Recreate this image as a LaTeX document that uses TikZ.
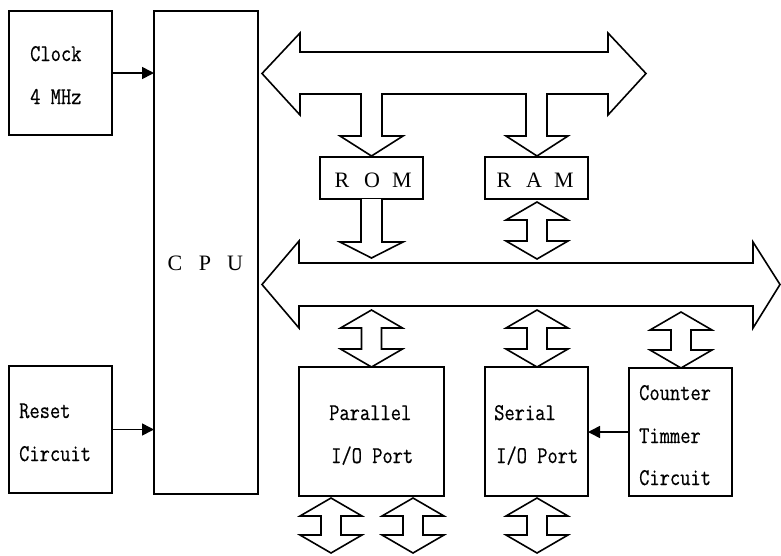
\documentclass[tikz,border=0pt]{standalone}
\usepackage{fontspec}
\usetikzlibrary{arrows.meta}
\newfontfamily\monofont[FakeStretch=0.83,FakeBold=0.5]{Latin Modern Mono}
\newfontfamily\serifont{Liberation Serif}
% three capitals set on a fixed pitch
\newcommand\spacedlabel[3]{\makebox[30pt]{#1}\makebox[30pt]{#2}\makebox[30pt]{#3}}
% vertical two-headed block arrow: centre x, top tip y, bottom tip y
\newcommand\twoway[3]{%
  \draw[fat] (#1,#2) -- (#1+31,#2+18) -- (#1+10,#2+18) -- (#1+10,#3-18)
    -- (#1+31,#3-18) -- (#1,#3) -- (#1-31,#3-18) -- (#1-10,#3-18)
    -- (#1-10,#2+18) -- (#1-31,#2+18) -- cycle;}

\begin{document}
\begin{tikzpicture}[x=1pt,y=-1pt,
  blk/.style={draw, line width=1.6pt, inner sep=0pt, outer sep=0pt},
  lbl/.style={font=\monofont\fontsize{24}{24}\selectfont, anchor=base west, inner sep=0pt},
  big/.style={font=\serifont\fontsize{22}{22}\selectfont, anchor=base, inner sep=0pt},
  fat/.style={draw, line width=1.6pt, line join=miter, fill=white},
  sig/.style={draw, line width=1.6pt, -{Triangle[length=12pt,width=12pt]}}
]
\useasboundingbox (0,0) rectangle (781,555);

% blocks
\node[blk, minimum width=103pt, minimum height=124pt] (clock) at (60.5,73) {};
\node[blk, minimum width=104pt, minimum height=483pt] (cpu) at (206,252.5) {};
\node[blk, minimum width=103pt, minimum height=127pt] (reset) at (60.5,429.5) {};
\node[blk, minimum width=103pt, minimum height=42pt] (rom) at (371.5,178) {};
\node[blk, minimum width=103pt, minimum height=42pt] (ram) at (536.5,178) {};
\node[blk, minimum width=145pt, minimum height=129pt] (pio) at (371.5,431.5) {};
\node[blk, minimum width=103pt, minimum height=129pt] (sio) at (536.5,431.5) {};
\node[blk, minimum width=103pt, minimum height=128pt] (ctc) at (680.5,432) {};

% labels
\node[lbl] (t1) at (30,61) {Clock};
\node[lbl] (t2) at (30,104) {4 MHz};
\node[lbl] (t3) at (19,418) {Reset};
\node[lbl] (t4) at (19,461) {Circuit};
\node[lbl] (t5) at (329,420) {Parallel};
\node[lbl] (t6) at (331,463) {I/O Port};
\node[lbl] (t7) at (494,420) {Serial};
\node[lbl] (t8) at (496,463) {I/O Port};
\node[lbl] (t9) at (639,400) {Counter};
\node[lbl] (t10) at (639,443) {Timmer};
\node[lbl] (t11) at (639,485) {Circuit};
\node[big] (tcpu) at (205,270) {\spacedlabel{C}{P}{U}};
\node[big] (trom) at (372,187.5) {\spacedlabel{R}{O}{M}};
\node[big] (tram) at (534,187.5) {\spacedlabel{R}{A}{M}};

% control signals
\draw[sig] (clock.east) -- (clock.east -| cpu.west);
\draw[sig] (reset.east) -- (reset.east -| cpu.west);
\draw[sig] (ctc.west) -- (ctc.west -| sio.east);

% upper bus with its branches down to ROM and RAM
\draw[fat] (262,73.5) -- (300,33) -- (300,52) -- (608,52) -- (608,33) -- (646,73.5)
  -- (608,115) -- (608,94) -- (547,94) -- (547,136) -- (568,136) -- (537,156)
  -- (506,136) -- (526,136) -- (526,94) -- (382,94) -- (382,136) -- (403,136)
  -- (371.5,156) -- (340,136) -- (361,136) -- (361,94) -- (300,94) -- (300,115) -- cycle;

% ROM output arrow
\draw[fat] (361,199) -- (361,242) -- (340,242) -- (371.5,258) -- (403,242) -- (382,242) -- (382,199);

% RAM two-way arrow
\twoway{537}{202}{259}

% lower bus
\draw[fat] (262,284.5) -- (299,241) -- (299,263) -- (753,263) -- (753,242) -- (780,284.5)
  -- (753,328) -- (753,306) -- (299,306) -- (299,328) -- cycle;

% bus to ports
\twoway{371.5}{310}{367}
\twoway{537}{310}{367}
\twoway{681}{312}{368}

% external lines
\twoway{331}{498}{553}
\twoway{413}{498}{553}
\twoway{537}{498}{553}
\end{tikzpicture}
\end{document}
